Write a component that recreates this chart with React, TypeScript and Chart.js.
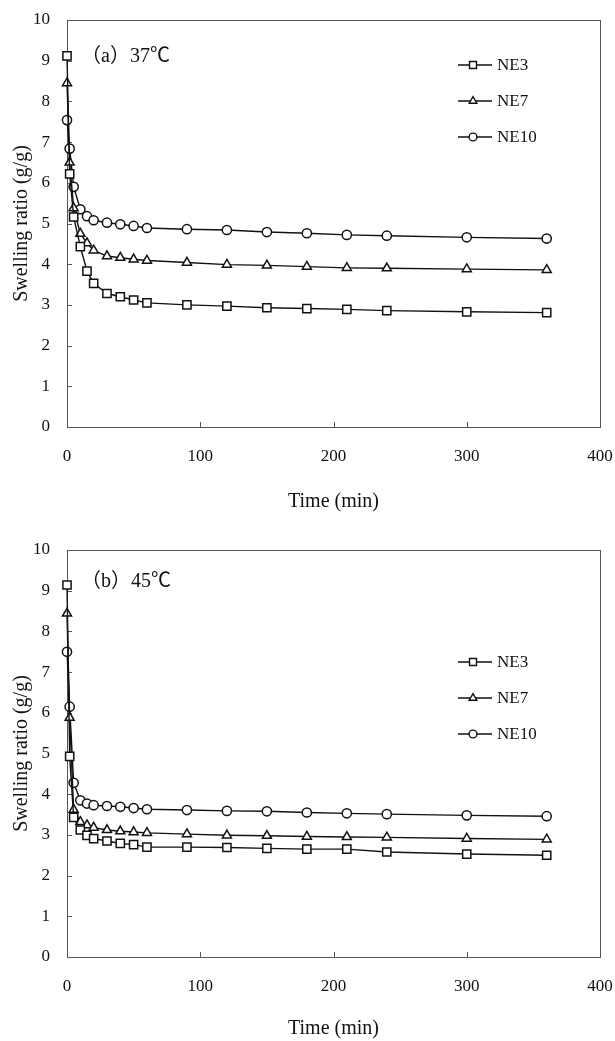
import React, { useEffect, useRef } from "react";
import { Chart, registerables } from "chart.js";

Chart.register(...registerables);

// ---- data ----
const times = [0, 2, 5, 10, 15, 20, 30, 40, 50, 60, 90, 120, 150, 180, 210, 240, 300, 360];
const seriesNames = ["NE3", "NE7", "NE10"];

const ne3At37 = [9.12, 6.22, 5.16, 4.43, 3.83, 3.53, 3.28, 3.2, 3.12, 3.05, 3.0, 2.97, 2.93, 2.91, 2.89, 2.86, 2.83, 2.81];
const ne7At37 = [8.45, 6.5, 5.38, 4.75, 4.52, 4.34, 4.2, 4.16, 4.12, 4.09, 4.04, 3.99, 3.97, 3.94, 3.91, 3.9, 3.88, 3.86];
const ne10At37 = [7.54, 6.84, 5.9, 5.35, 5.18, 5.08, 5.02, 4.98, 4.94, 4.89, 4.86, 4.84, 4.79, 4.76, 4.72, 4.7, 4.66, 4.63];

const ne3At45 = [9.14, 4.93, 3.43, 3.12, 2.99, 2.91, 2.85, 2.79, 2.76, 2.7, 2.7, 2.69, 2.67, 2.65, 2.65, 2.58, 2.53, 2.5];
const ne7At45 = [8.44, 5.88, 3.62, 3.32, 3.24, 3.18, 3.12, 3.09, 3.07, 3.05, 3.02, 2.99, 2.98, 2.96, 2.95, 2.94, 2.91, 2.89];
const ne10At45 = [7.5, 6.15, 4.28, 3.85, 3.77, 3.73, 3.71, 3.69, 3.66, 3.63, 3.61, 3.59, 3.58, 3.55, 3.53, 3.51, 3.48, 3.46];

const panelLabels = ["（a）37℃", "（b）45℃"];
const xTitle = "Time (min)";
const yTitle = "Swelling ratio (g/g)";
const xMin = 0, xMax = 400, xStep = 100;
const yMin = 0, yMax = 10, yStep = 1;

const FONT = "'Liberation Serif', 'Times New Roman', 'Noto Sans CJK SC', serif";
const pointStyles = ["rect", "triangle", "circle"];
const pointRadii = [5.8, 5.2, 4.6];

type PanelCfg = {
  values: number[][];
  label: string;
  labelTop: number;
  topPad: number;
  height: number;
  xAxisHeight: number;
  xTitlePadBottom: number;
  legendTop: number;
  legendGap: number;
};

function drawMarker(ctx: CanvasRenderingContext2D, style: string, x: number, y: number, r: number) {
  ctx.beginPath();
  if (style === "rect") {
    const s = Math.SQRT1_2 * r;
    ctx.rect(x - s, y - s, 2 * s, 2 * s);
  } else if (style === "triangle") {
    for (let k = 0; k < 3; k++) {
      const ang = -Math.PI / 2 + (k * 2 * Math.PI) / 3;
      const px = x + Math.cos(ang) * r;
      const py = y + Math.sin(ang) * r;
      if (k === 0) ctx.moveTo(px, py);
      else ctx.lineTo(px, py);
    }
    ctx.closePath();
  } else {
    ctx.arc(x, y, r, 0, Math.PI * 2);
  }
  ctx.fillStyle = "#fff";
  ctx.fill();
  ctx.stroke();
}

const decorPlugin = {
  id: "decor",
  beforeDatasetsDraw(chart: any) {
    const { ctx, chartArea: a, scales } = chart;
    const x = scales.x;
    const y = scales.y;
    ctx.save();
    ctx.strokeStyle = "#555";
    ctx.lineWidth = 1;
    ctx.strokeRect(Math.round(a.left) + 0.5, Math.round(a.top) + 0.5, Math.round(a.right - a.left), Math.round(a.bottom - a.top));
    ctx.beginPath();
    y.ticks.forEach((t: any) => {
      const py = Math.round(y.getPixelForValue(t.value)) + 0.5;
      ctx.moveTo(a.left, py);
      ctx.lineTo(a.left + 5, py);
    });
    x.ticks.forEach((t: any) => {
      const px = Math.round(x.getPixelForValue(t.value)) + 0.5;
      ctx.moveTo(px, a.bottom);
      ctx.lineTo(px, a.bottom - 5);
    });
    ctx.stroke();
    ctx.restore();
  },
  afterDraw(chart: any, _args: any, opts: any) {
    const { ctx, chartArea: a } = chart;
    ctx.save();
    ctx.fillStyle = "#111";
    ctx.font = `20px ${FONT}`;
    ctx.textBaseline = "middle";
    ctx.textAlign = "left";
    ctx.fillText(opts.label, a.left + 14, a.top + opts.labelTop);
    ctx.font = `17px ${FONT}`;
    const lx0 = a.left + 391;
    const lx1 = a.left + 425;
    chart.data.datasets.forEach((ds: any, i: number) => {
      const ly = a.top + opts.legendTop + i * opts.legendGap;
      ctx.strokeStyle = "#111";
      ctx.lineWidth = 1.4;
      ctx.beginPath();
      ctx.moveTo(lx0, ly);
      ctx.lineTo(lx1, ly);
      ctx.stroke();
      drawMarker(ctx, ds.pointStyle, (lx0 + lx1) / 2 - 2, ly, ds.pointRadius * 0.85);
      ctx.fillStyle = "#111";
      ctx.fillText(ds.label, lx1 + 5, ly + 1);
    });
    ctx.restore();
  },
};

function Panel({ cfg }: { cfg: PanelCfg }) {
  const ref = useRef<HTMLCanvasElement | null>(null);
  useEffect(() => {
    if (!ref.current) return;
    const chart = new Chart(ref.current, {
      type: "line",
      data: {
        datasets: cfg.values.map((vals, i) => ({
          label: seriesNames[i],
          data: times.map((t, k) => ({ x: t, y: vals[k] })),
          borderColor: "#111",
          borderWidth: 1.4,
          pointStyle: pointStyles[i],
          pointRadius: pointRadii[i],
          pointBackgroundColor: "#fff",
          pointBorderColor: "#111",
          pointBorderWidth: 1.5,
          tension: 0,
          fill: false,
          clip: false,
        })),
      },
      options: {
        responsive: false,
        animation: false,
        layout: { padding: { top: cfg.topPad, right: 15, left: 0, bottom: 0 } },
        plugins: {
          legend: { display: false },
          tooltip: { enabled: false },
          decor: { label: cfg.label, labelTop: cfg.labelTop, legendTop: cfg.legendTop, legendGap: cfg.legendGap },
        } as any,
        scales: {
          x: {
            type: "linear",
            min: xMin,
            max: xMax,
            ticks: { stepSize: xStep, color: "#111", font: { family: FONT, size: 17 }, padding: 19, maxRotation: 0 },
            grid: { display: false, drawTicks: false },
            border: { display: false },
            title: { display: true, text: xTitle, color: "#111", font: { family: FONT, size: 20 }, padding: { top: 0, bottom: cfg.xTitlePadBottom } },
            afterFit: (s: any) => {
              s.height = cfg.xAxisHeight;
              s.paddingLeft = 0;
              s.paddingRight = 0;
            },
          },
          y: {
            min: yMin,
            max: yMax,
            ticks: { stepSize: yStep, color: "#111", font: { family: FONT, size: 17 }, padding: 17 },
            grid: { display: false, drawTicks: false },
            border: { display: false },
            title: { display: true, text: yTitle, color: "#111", font: { family: FONT, size: 20 }, padding: { top: 10, bottom: 0 } },
            afterFit: (s: any) => {
              s.width = 67;
              s.paddingTop = 0;
              s.paddingBottom = 0;
            },
          },
        },
      },
      plugins: [decorPlugin],
    } as any);
    return () => chart.destroy();
  }, []);
  return <canvas ref={ref} width={615} height={cfg.height} style={{ display: "block" }} />;
}

const panels: PanelCfg[] = [
  { values: [ne3At37, ne7At37, ne10At37], label: panelLabels[0], labelTop: 37, topPad: 20, height: 520, xAxisHeight: 93, xTitlePadBottom: 6, legendTop: 45, legendGap: 36 },
  { values: [ne3At45, ne7At45, ne10At45], label: panelLabels[1], labelTop: 32, topPad: 30, height: 521, xAxisHeight: 84, xTitlePadBottom: 0, legendTop: 112, legendGap: 36 },
];

export default function App() {
  useEffect(() => {
    document.body.style.margin = "0";
  }, []);
  return (
    <div style={{ width: 615, background: "#fff" }}>
      {panels.map((p, i) => (
        <Panel key={i} cfg={p} />
      ))}
    </div>
  );
}
